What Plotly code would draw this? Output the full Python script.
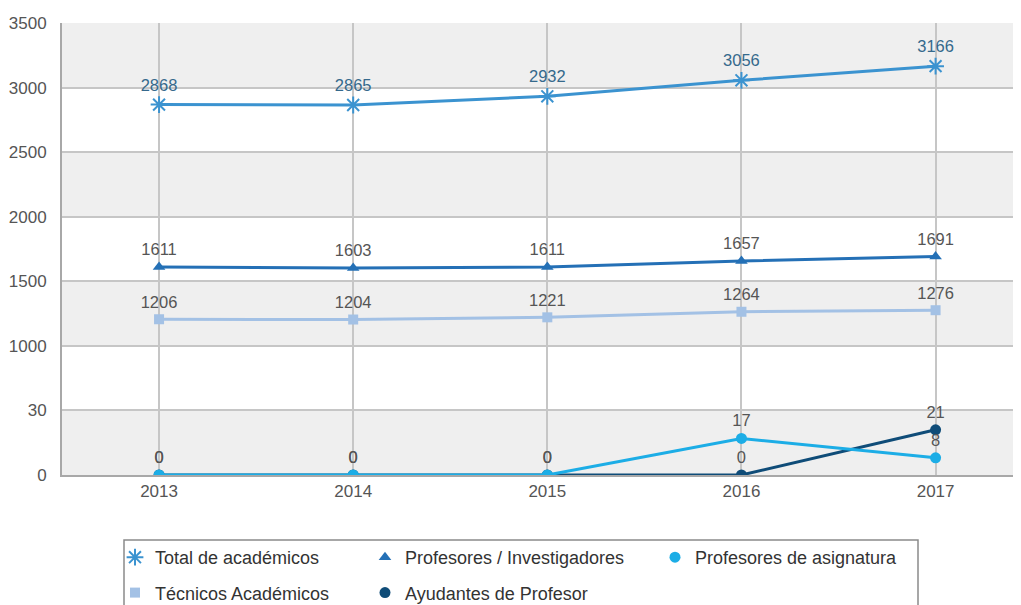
import plotly.graph_objects as go
import numpy as np

# Data
years = ['2013', '2014', '2015', '2016', '2017']
total_academicos = [2868, 2865, 2932, 3056, 3166]
profesores_investigadores = [1611, 1603, 1611, 1657, 1691]
tecnicos_academicos = [1206, 1204, 1221, 1264, 1276]
ayudantes_profesor = [0, 0, 0, 0, 21]
profesores_asignatura = [0, 0, 0, 17, 8]

# Broken y axis: each tick label gets the same vertical spacing
y_tick_labels = [0, 30, 1000, 1500, 2000, 2500, 3000, 3500]

FONT = 'Liberation Sans, Arial, sans-serif'
GREY_TEXT = '#555555'
GRID = '#c6c6c6'

# the page body has an 8px margin, so the figure starts at (8, 8) on screen
PAGE_OFFSET = 8
PLOT_LEFT, PLOT_RIGHT, PLOT_TOP, PLOT_BOTTOM = 62, 1021, 23, 475  # screen px
FIG_W, FIG_H = 1021 - PAGE_OFFSET, 640  # bottom is cut off by the window, like the original


def to_axis(values):
    """Map real values onto the piecewise (broken) y scale."""
    return np.interp(values, y_tick_labels, list(range(len(y_tick_labels))))


def px_x(px):
    """Screen pixel column -> paper x."""
    return (px - PLOT_LEFT) / (PLOT_RIGHT - PLOT_LEFT)


def px_y(py):
    """Screen pixel row -> paper y."""
    return (PLOT_BOTTOM - py) / (PLOT_BOTTOM - PLOT_TOP)


series = [
    # name, values, color, marker, label color, legend
    ('Total de académicos', total_academicos, '#3b93d0',
     dict(symbol='asterisk', size=14, line=dict(color='#3b93d0', width=2)), '#35698c', 'legend'),
    ('Profesores / Investigadores', profesores_investigadores, '#2470b6',
     dict(symbol='triangle-up', size=11), GREY_TEXT, 'legend2'),
    ('Técnicos Académicos', tecnicos_academicos, '#a3c1e5',
     dict(symbol='square', size=10), GREY_TEXT, 'legend'),
    ('Ayudantes de Profesor', ayudantes_profesor, '#0f4c78',
     dict(symbol='circle', size=11), GREY_TEXT, 'legend2'),
    ('Profesores de asignatura', profesores_asignatura, '#1cade6',
     dict(symbol='circle', size=11), GREY_TEXT, 'legend3'),
]

fig = go.Figure()

for name, values, color, marker, label_color, legend in series:
    marker = dict(marker)
    marker['color'] = color
    fig.add_trace(go.Scatter(
        x=years,
        y=to_axis(values),
        mode='lines+markers+text',
        name=name,
        line=dict(color=color, width=3),
        marker=marker,
        text=[str(v) for v in values],
        textposition='top center',
        textfont=dict(family=FONT, size=16.5, color=label_color),
        hovertext=[f"{name}: {v}" for v in values],
        hoverinfo='text',
        showlegend=False,
    ))
    # Marker-only entry for the legend
    fig.add_trace(go.Scatter(
        x=[None], y=[None],
        mode='markers',
        name=name,
        marker=marker,
        legend=legend,
        legendgroup=name,
        showlegend=True,
    ))

# Alternating grey bands behind the plot
for i in range(0, len(y_tick_labels) - 1, 2):
    fig.add_shape(type='rect', xref='paper', yref='y',
                  x0=0, x1=1, y0=i, y1=i + 1,
                  fillcolor='#efefef', line=dict(width=0), layer='below')

# Legend frame
fig.add_shape(type='rect', xref='paper', yref='paper',
              x0=px_x(124), x1=px_x(918), y0=px_y(540), y1=px_y(640),
              line=dict(color='#8a8a8a', width=1.5), fillcolor='rgba(0,0,0,0)')

legend_style = dict(
    orientation='v',
    yanchor='top',
    xanchor='left',
    y=px_y(539),
    traceorder='grouped',
    tracegroupgap=9,
    font=dict(family=FONT, size=18, color='#333333'),
    bgcolor='rgba(0,0,0,0)',
    borderwidth=0,
)

fig.update_layout(
    width=FIG_W,
    height=FIG_H,
    margin=dict(l=PLOT_LEFT - PAGE_OFFSET, r=0, t=PLOT_TOP - PAGE_OFFSET,
                b=FIG_H - (PLOT_BOTTOM - PAGE_OFFSET), pad=0),
    plot_bgcolor='white',
    paper_bgcolor='white',
    font=dict(family=FONT, size=17, color=GREY_TEXT),
    showlegend=True,
    legend=dict(legend_style, x=px_x(115)),
    legend2=dict(legend_style, x=px_x(365)),
    legend3=dict(legend_style, x=px_x(655)),
    xaxis=dict(
        type='category',
        range=[-0.5, 4.44],
        showgrid=True,
        gridcolor=GRID,
        gridwidth=1.5,
        showline=True,
        linecolor='#a8a8a8',
        linewidth=2,
        ticks='',
        automargin=False,
        tickfont=dict(family=FONT, size=17, color=GREY_TEXT),
    ),
    yaxis=dict(
        range=[0, len(y_tick_labels) - 1],
        tickmode='array',
        tickvals=list(range(len(y_tick_labels))),
        ticktext=[str(t) for t in y_tick_labels],
        showgrid=True,
        gridcolor=GRID,
        gridwidth=1.5,
        zeroline=False,
        showline=True,
        linecolor='#a8a8a8',
        linewidth=2,
        ticks='outside',
        ticklen=10,
        tickcolor='rgba(0,0,0,0)',
        automargin=False,
        tickfont=dict(family=FONT, size=17, color=GREY_TEXT),
    ),
)

fig.write_html("out.html")
